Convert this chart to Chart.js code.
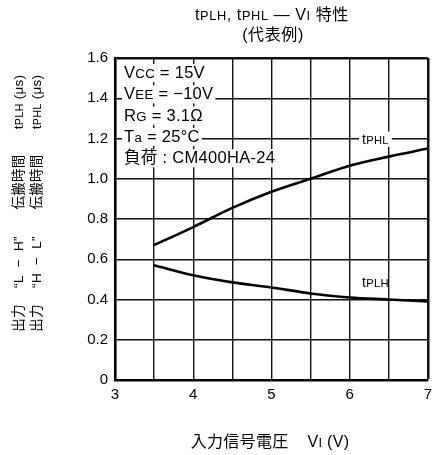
<!DOCTYPE html>
<html>
<head>
<meta charset="utf-8">
<script src="https://cdn.jsdelivr.net/npm/chart.js"></script>
<style>
  html,body{margin:0;padding:0;background:#fff}
  #wrap{width:438px;height:455px;position:relative}
</style>
</head>
<body>
<div id="wrap"><canvas id="c"></canvas></div>
<script>
/* =====  data  ===== */
const vi   = [3.5, 4, 4.5, 5, 5.5, 6, 6.5, 7];
const tPHL = [0.67, 0.76, 0.855, 0.935, 1.0, 1.065, 1.11, 1.15];
const tPLH = [0.57, 0.52, 0.485, 0.46, 0.43, 0.41, 0.40, 0.39];
const xRange = [3, 7];
const yRange = [0, 1.6];

/*  rich text: [text, small?]  */
const titleLine1 = [['t'], ['PLH', 1], [', t'], ['PHL', 1], [' \u2014 V'], ['I', 1], [' 特性']];
const titleLine2 = [['(代表例)']];
const conditions = [
  [['V'], ['CC', 1], [' = 15V']],
  [['V'], ['EE', 1], [' = \u221210V']],
  [['R'], ['G', 1], [' = 3.1\u03a9']],
  [['T'], ['a', 1], [' = 25\u00b0C']],
  [['負荷 : CM400HA-24']]
];
/*  y title pieces: [segments, centre y]  */
const yTitle1 = [[[['t'], ['PLH', 1], [' (\u03bcs)']], 102], [[['伝搬時間']], 182], [[['\u201cL  \u2212  H\u201d']], 262], [[['出力']], 318]];
const yTitle2 = [[[['t'], ['PHL', 1], [' (\u03bcs)']], 102], [[['伝搬時間']], 182], [[['\u201cH  \u2212  L\u201d']], 262], [[['出力']], 318]];
const xTitle  = [['入力信号電圧    V'], ['I', 1], [' (V)']];
const lblPHL  = [['t'], ['PHL', 1]];
const lblPLH  = [['t'], ['PLH', 1]];

const font = s => `${s}px "Liberation Sans", "Noto Sans CJK JP", sans-serif`;
const SMALL = 0.8;

function measure(ctx, segs, size){
  let w = 0;
  segs.forEach(([t, s]) => { ctx.font = font(s ? size*SMALL : size); w += ctx.measureText(t).width; });
  return w;
}
function rich(ctx, segs, x, y, size, align){
  const w = measure(ctx, segs, size);
  let cx = align === 'center' ? x - w/2 : align === 'right' ? x - w : x;
  ctx.textAlign = 'left'; ctx.textBaseline = 'alphabetic'; ctx.fillStyle = '#000';
  segs.forEach(([t, s]) => { ctx.font = font(s ? size*SMALL : size); ctx.fillText(t, cx, y); cx += ctx.measureText(t).width; });
}
function richBg(ctx, segs, x, y, size, align, pad){
  const w = measure(ctx, segs, size);
  const x0 = align === 'center' ? x - w/2 : x;
  ctx.fillStyle = '#fff';
  ctx.fillRect(x0 - pad, y - size*0.85, w + pad*2, size*1.1);
  rich(ctx, segs, x, y, size, align);
}

/* =====  texts round the plot  ===== */
const textPlugin = {
  id: 'texts',
  afterDraw(chart){
    const ctx = chart.ctx;
    const xs = chart.scales.x, ys = chart.scales.y;
    ctx.save();
    ctx.letterSpacing = '0.6px';
    rich(ctx, titleLine1, 272, 20, 16, 'center');
    rich(ctx, titleLine2, 273, 40, 16, 'center');
    ctx.letterSpacing = '0.3px';

    conditions.forEach((c, i) => richBg(ctx, c, 124, 78 + i*21.3, 16.5, 'left', 2));

    richBg(ctx, lblPHL, xs.getPixelForValue(6.33), ys.getPixelForValue(1.2) + 5, 14, 'center', 3);
    rich(ctx, lblPLH, xs.getPixelForValue(6.33), ys.getPixelForValue(0.46), 14, 'center');

    rich(ctx, xTitle, 270, 447, 16, 'center');

    [[yTitle1, 23], [yTitle2, 41]].forEach(([pieces, x]) => {
      pieces.forEach(([segs, cy]) => {
        ctx.save();
        ctx.translate(x, cy);
        ctx.rotate(-Math.PI/2);
        rich(ctx, segs, 0, 0, 13.5, 'center');
        ctx.restore();
      });
    });
    ctx.restore();
  }
};

const edgeW = v => (v === xRange[1] || v === yRange[1]) ? 2.5 : 1.4;

new Chart(document.getElementById('c'), {
  type: 'line',
  data: {
    datasets: [
      { label: 'tPHL', data: vi.map((x, i) => ({x, y: tPHL[i]})), borderColor: '#000', borderWidth: 2.6, pointRadius: 0, cubicInterpolationMode: 'monotone', fill: false },
      { label: 'tPLH', data: vi.map((x, i) => ({x, y: tPLH[i]})), borderColor: '#000', borderWidth: 2.6, pointRadius: 0, cubicInterpolationMode: 'monotone', fill: false }
    ]
  },
  options: {
    responsive: true,
    maintainAspectRatio: false,
    animation: false,
    layout: { padding: { top: 58, right: 3, left: 0, bottom: 0 } },
    plugins: { legend: { display: false }, tooltip: { enabled: false }, title: { display: false } },
    scales: {
      x: {
        type: 'linear', min: xRange[0], max: xRange[1],
        afterFit: s => { s.height = 75; },
        ticks: { stepSize: 0.5, autoSkip: false, maxRotation: 0, padding: 6, color: '#000', font: { size: 15, family: '"Liberation Sans", sans-serif' },
                 callback: v => Number.isInteger(v) ? String(v) : '' },
        grid: { color: '#111', lineWidth: c => edgeW(c.tick && c.tick.value), drawTicks: false },
        border: { display: true, color: '#000', width: 2.6 }
      },
      y: {
        min: yRange[0], max: yRange[1],
        afterFit: s => { s.width = 115; },
        ticks: { stepSize: 0.2, padding: 7, color: '#000', font: { size: 15, family: '"Liberation Sans", sans-serif' },
                 callback: v => v === 0 ? '0' : v.toFixed(1) },
        grid: { color: '#111', lineWidth: c => edgeW(c.tick && Math.round(c.tick.value*10)/10), drawTicks: false },
        border: { display: true, color: '#000', width: 2.6 }
      }
    }
  },
  plugins: [textPlugin]
});
</script>
</body>
</html>
